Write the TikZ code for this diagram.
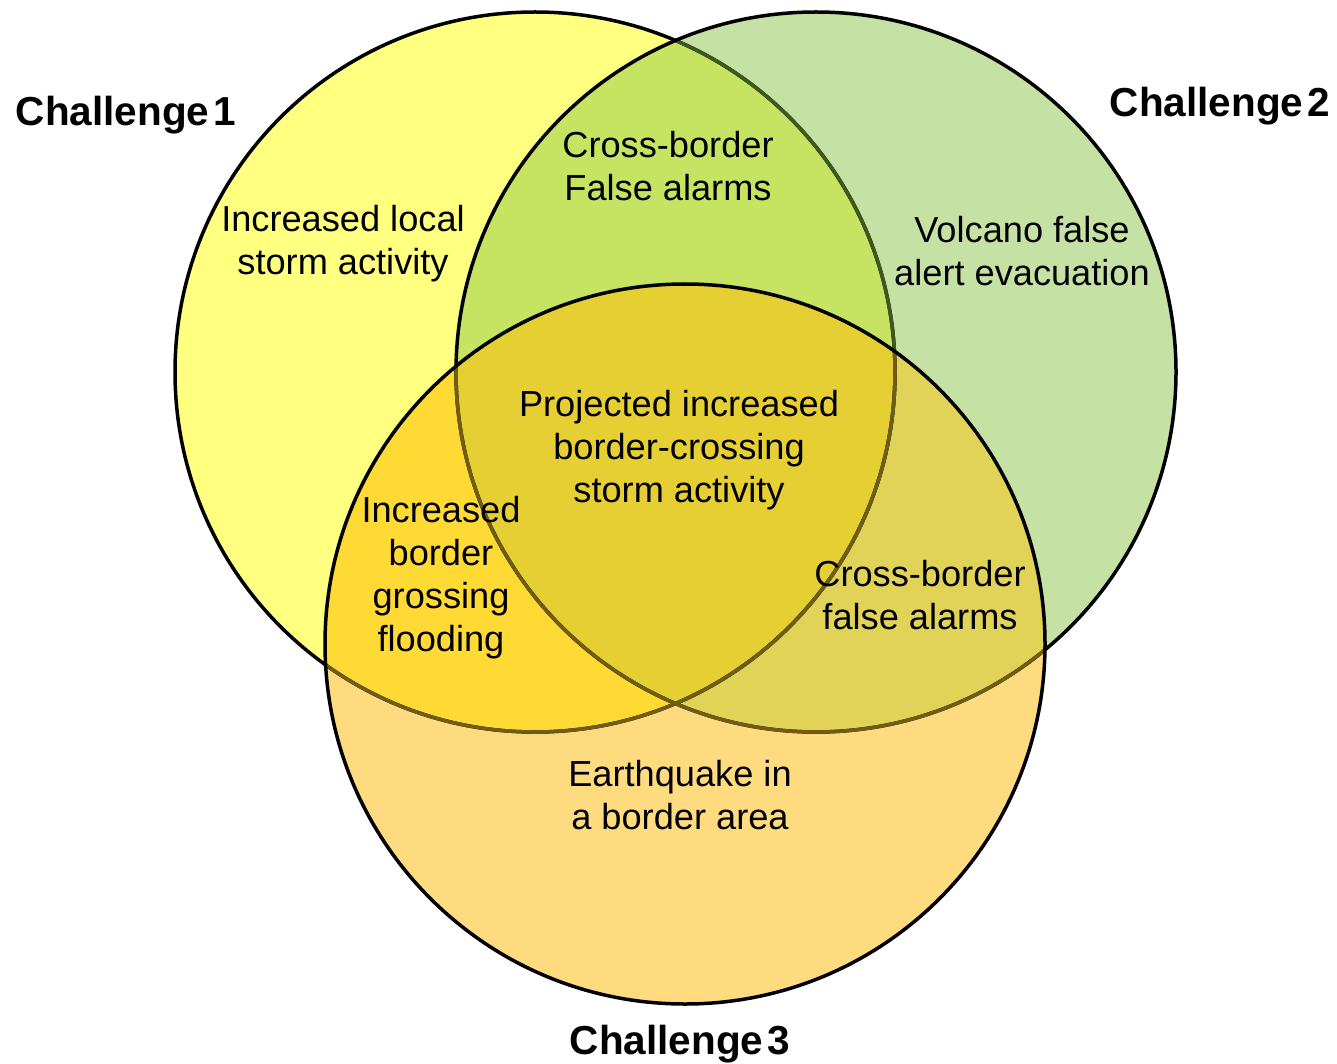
\documentclass[tikz,border=0pt]{standalone}
\usepackage{fontspec}
\setmainfont{Liberation Sans}
\definecolor{cY}{RGB}{255,255,128}
\definecolor{cG}{RGB}{197,226,164}
\definecolor{cO}{RGB}{255,219,127}
\definecolor{cYG}{RGB}{198,228,98}
\definecolor{cYO}{RGB}{255,217,52}
\definecolor{cGO}{RGB}{225,210,88}
\definecolor{cYGO}{RGB}{229,207,50}
\definecolor{lnG}{RGB}{62,88,30}
\definecolor{lnO}{RGB}{112,92,18}
\begin{document}
\begin{tikzpicture}[x=1pt,y=-1pt,
  ln/.style={line width=3.5pt},
  lbl/.style={align=center,font=\fontsize{36.2}{43}\selectfont,inner sep=0pt},
  ttl/.style={align=center,font=\fontsize{40.5}{46}\selectfont\bfseries,inner sep=0pt}]
\useasboundingbox (0,0) rectangle (1337,1064);
\coordinate (c1) at (535,372);
\coordinate (c2) at (816,372);
\coordinate (c3) at (685,644);
% fills
\fill[cY] (c1) circle (360pt);
\fill[cG] (c2) circle (360pt);
\fill[cO] (c3) circle (360pt);
\begin{scope}
  \clip (c1) circle (360pt);
  \fill[cYG] (c2) circle (360pt);
  \fill[cYO] (c3) circle (360pt);
\end{scope}
\begin{scope}
  \clip (c2) circle (360pt);
  \fill[cGO] (c3) circle (360pt);
  \clip (c1) circle (360pt);
  \fill[cYGO] (c3) circle (360pt);
\end{scope}
% strokes
\draw[ln] (c1) circle (360pt);
\begin{scope}
  \clip (c2) circle (360pt);
  \draw[ln,lnG] (c1) circle (360pt);
\end{scope}
\draw[ln] (c2) circle (360pt);
\begin{scope}
  \clip (c3) circle (360pt);
  \draw[ln,lnO] (c1) circle (360pt);
  \draw[ln,lnO] (c2) circle (360pt);
\end{scope}
\draw[ln] (c3) circle (360pt);
% titles
\node[ttl] (t1) at (126,115) {Challenge\hspace{0.1em}1};
\node[ttl] (t2) at (1220,106) {Challenge\hspace{0.1em}2};
\node[ttl] (t3) at (680,1044) {Challenge\hspace{0.1em}3};
% labels
\node[lbl] (a) at (343,244) {Increased local\\storm activity};
\node[lbl] (ab) at (668,166) {Cross-border\\False alarms};
\node[lbl] (b) at (1022,251) {Volcano false\\alert evacuation};
\node[lbl] (abc) at (679,450) {Projected increased\\border-crossing\\storm activity};
\node[lbl] (ac) at (441,578) {Increased\\border\\grossing\\flooding};
\node[lbl] (bc) at (920,595) {Cross-border\\false alarms};
\node[lbl] (c) at (680,795) {Earthquake in\\a border area};
\end{tikzpicture}
\end{document}
